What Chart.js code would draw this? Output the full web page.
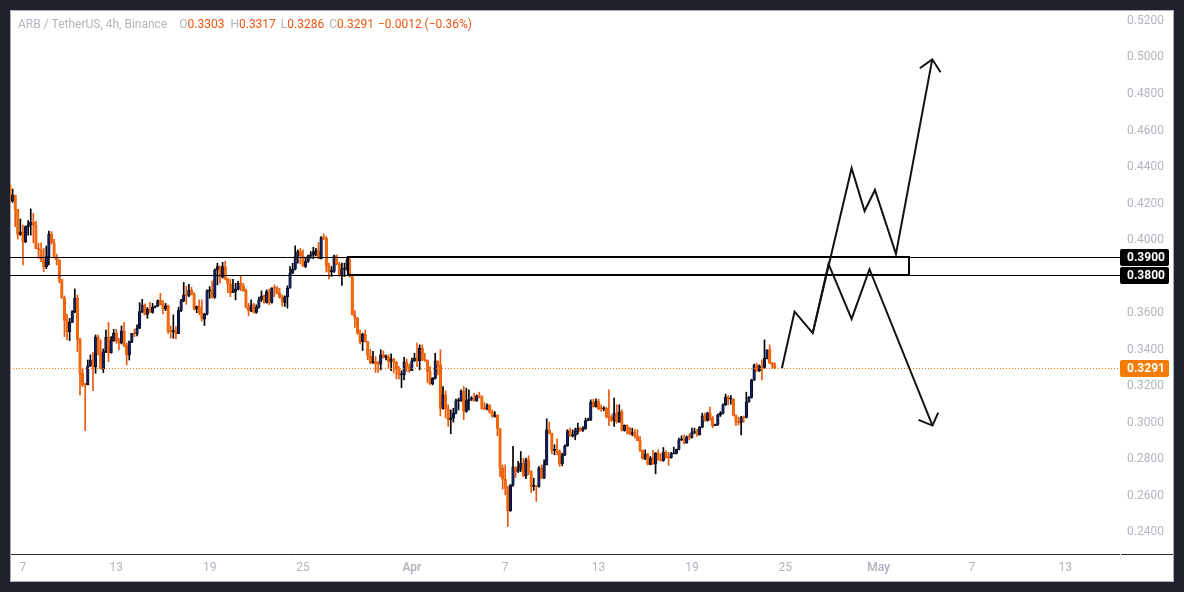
<!DOCTYPE html>
<html>
<head>
<meta charset="utf-8">
<style>
  html, body { margin: 0; padding: 0; background: #1e222d; overflow: hidden; }
  canvas { display: block; }
</style>
<script src="https://cdn.jsdelivr.net/npm/chart.js@4"></script>
</head>
<body>
<canvas id="myChart" width="1184" height="592"></canvas>
<script>
// first candle sits at index -5, index 0 is the "7" tick, one index is 4 hours
const firstIndex = -5;
const firstOpen = 0.4291;

const closes = [
  .4203,.4236,.4158,.4021,.4034,.3981,.4063,.4072,.4087,.4072,.3943,.3935,.3881,.3844,.3899,.4021,.3975,.3895,.3881,.3775,
  .3671,.3549,.3488,.3539,.3598,.3671,.3446,.3260,.3197,.3197,.3301,.3333,.3297,.3457,.3370,.3284,.3379,.3457,.3373,.3439,
  .3479,.3439,.3425,.3492,.3412,.3361,.3434,.3479,.3476,.3507,.3598,.3634,.3583,.3611,.3594,.3622,.3629,.3658,.3636,.3612,
  .3629,.3488,.3488,.3490,.3477,.3603,.3656,.3687,.3687,.3716,.3694,.3611,.3625,.3592,.3556,.3584,.3711,.3715,.3675,.3826,
  .3845,.3786,.3845,.3775,.3748,.3702,.3708,.3721,.3753,.3739,.3713,.3622,.3604,.3635,.3593,.3622,.3662,.3684,.3648,.3708,
  .3648,.3726,.3726,.3699,.3675,.3648,.3680,.3726,.3808,.3830,.3903,.3927,.3903,.3845,.3872,.3903,.3907,.3927,.3932,.3887,
  .4003,.4000,.3850,.3817,.3818,.3903,.3859,.3795,.3830,.3831,.3881,.3790,.3580,.3562,.3478,.3434,.3474,.3434,.3356,.3316,
  .3325,.3310,.3310,.3361,.3347,.3349,.3325,.3337,.3321,.3283,.3252,.3253,.3321,.3294,.3275,.3328,.3343,.3328,.3398,.3334,
  .3330,.3270,.3203,.3232,.3328,.3306,.3068,.3142,.3064,.3006,.3015,.3042,.3110,.3111,.3161,.3051,.3111,.3119,.3120,.3111,
  .3137,.3133,.3066,.3066,.3088,.3047,.3024,.3031,.2958,.2741,.2681,.2635,.2508,.2650,.2747,.2723,.2741,.2768,.2699,.2787,
  .2723,.2641,.2642,.2641,.2741,.2686,.2759,.2951,.2933,.2838,.2840,.2832,.2765,.2814,.2863,.2945,.2918,.2920,.2942,.2960,
  .2947,.2958,.3002,.3004,.3102,.3078,.3106,.3066,.3066,.3068,.3020,.3020,.3002,.3042,.2996,.3049,.2947,.2975,.2960,.2929,
  .2936,.2918,.2892,.2838,.2794,.2818,.2761,.2796,.2763,.2823,.2787,.2783,.2829,.2799,.2799,.2819,.2821,.2845,.2896,.2898,
  .2878,.2911,.2909,.2936,.2940,.2923,.2965,.3027,.3002,.3044,.3016,.2973,.2980,.3033,.3042,.3088,.3130,.3119,.3120,.3029,
  .2991,.2991,.3018,.3018,.3104,.3128,.3223,.3305,.3275,.3301,.3292,.3343,.3389,.3316,.3303,.3291
];
const highs = [
  .4291,.4269,.4236,.4158,.4105,.4072,.4067,.4096,.4160,.4136,.4094,.3972,.3975,.3944,.3957,.4039,.4036,.3994,.3913,.3881,
  .3775,.3684,.3585,.3561,.3603,.3722,.3689,.3452,.3288,.3206,.3333,.3361,.3373,.3470,.3470,.3443,.3394,.3497,.3539,.3461,
  .3501,.3501,.3452,.3519,.3539,.3425,.3437,.3479,.3501,.3525,.3647,.3665,.3640,.3620,.3649,.3643,.3629,.3662,.3698,.3658,
  .3643,.3634,.3519,.3580,.3516,.3622,.3665,.3758,.3738,.3747,.3731,.3702,.3629,.3662,.3662,.3589,.3717,.3735,.3766,.3832,
  .3863,.3848,.3868,.3874,.3781,.3775,.3775,.3753,.3763,.3794,.3753,.3721,.3644,.3662,.3644,.3635,.3677,.3711,.3690,.3717,
  .3722,.3730,.3744,.3735,.3726,.3690,.3684,.3739,.3845,.3863,.3958,.3936,.3945,.3936,.3896,.3908,.3927,.3950,.3945,.3976,
  .4009,.4023,.4009,.3863,.3845,.3908,.3908,.3867,.3863,.3863,.3896,.3896,.3803,.3604,.3566,.3498,.3480,.3498,.3434,.3392,
  .3380,.3352,.3325,.3389,.3383,.3361,.3361,.3367,.3343,.3325,.3297,.3274,.3348,.3338,.3310,.3343,.3370,.3425,.3416,.3416,
  .3370,.3334,.3297,.3237,.3370,.3328,.3389,.3188,.3164,.3088,.3060,.3069,.3119,.3124,.3170,.3188,.3179,.3170,.3133,.3151,
  .3142,.3157,.3137,.3100,.3093,.3088,.3060,.3051,.3033,.2958,.2759,.2759,.2641,.2650,.2860,.2750,.2778,.2832,.2796,.2796,
  .2809,.2726,.2686,.2641,.2750,.2759,.2787,.3011,.2993,.2933,.2869,.2902,.2841,.2823,.2869,.2951,.2960,.2951,.2960,.2987,
  .2964,.2969,.3015,.3015,.3115,.3119,.3120,.3119,.3088,.3078,.3075,.3170,.3033,.3124,.3088,.3088,.3060,.2978,.2978,.2964,
  .2960,.2954,.2951,.2914,.2841,.2841,.2823,.2805,.2838,.2827,.2841,.2820,.2854,.2836,.2827,.2827,.2856,.2845,.2905,.2918,
  .2923,.2918,.2929,.2960,.2960,.2954,.2969,.3042,.3042,.3047,.3075,.3024,.2982,.3038,.3051,.3093,.3146,.3137,.3139,.3119,
  .3033,.3020,.3024,.3027,.3157,.3133,.3228,.3310,.3316,.3306,.3334,.3443,.3389,.3416,.3321,.3317
];
const lows = [
  .4196,.4196,.4063,.3995,.4015,.3853,.3975,.4017,.4017,.3975,.3943,.3890,.3871,.3817,.3833,.3853,.3968,.3890,.3853,.3756,
  .3671,.3461,.3443,.3439,.3539,.3592,.3379,.3142,.3187,.2947,.3197,.3297,.3165,.3260,.3361,.3284,.3264,.3373,.3324,.3370,
  .3435,.3425,.3388,.3421,.3406,.3306,.3333,.3428,.3461,.3465,.3505,.3592,.3580,.3561,.3592,.3589,.3618,.3625,.3634,.3585,
  .3603,.3479,.3452,.3452,.3448,.3477,.3598,.3652,.3638,.3680,.3689,.3607,.3592,.3580,.3547,.3522,.3580,.3671,.3671,.3671,
  .3744,.3753,.3781,.3772,.3702,.3680,.3702,.3662,.3717,.3713,.3708,.3617,.3575,.3598,.3589,.3589,.3617,.3653,.3644,.3644,
  .3635,.3644,.3680,.3695,.3671,.3626,.3626,.3617,.3726,.3805,.3826,.3863,.3859,.3845,.3839,.3867,.3890,.3887,.3903,.3887,
  .3887,.3991,.3814,.3777,.3790,.3812,.3854,.3790,.3741,.3790,.3823,.3786,.3580,.3511,.3474,.3421,.3385,.3431,.3334,.3312,
  .3316,.3265,.3265,.3279,.3343,.3334,.3285,.3274,.3261,.3230,.3228,.3182,.3224,.3270,.3265,.3274,.3325,.3297,.3279,.3330,
  .3325,.3210,.3197,.3197,.3228,.3252,.3027,.3064,.3015,.2969,.2929,.2993,.3038,.3060,.3106,.3006,.3047,.3060,.3111,.3106,
  .3106,.3124,.3064,.3060,.3060,.3042,.3020,.3020,.2918,.2695,.2626,.2595,.2422,.2504,.2641,.2690,.2717,.2723,.2695,.2683,
  .2705,.2608,.2619,.2559,.2637,.2683,.2683,.2759,.2929,.2819,.2814,.2814,.2750,.2754,.2809,.2860,.2914,.2911,.2896,.2927,
  .2942,.2942,.2954,.3000,.3002,.3075,.3075,.3060,.3051,.3055,.3015,.2973,.2996,.2969,.2987,.2991,.2945,.2943,.2929,.2923,
  .2918,.2905,.2891,.2832,.2790,.2787,.2759,.2759,.2761,.2710,.2783,.2779,.2778,.2796,.2756,.2796,.2819,.2818,.2841,.2892,
  .2874,.2878,.2896,.2905,.2929,.2914,.2922,.2962,.2998,.2998,.3002,.2962,.2973,.2975,.3024,.3038,.3084,.3088,.3091,.3026,
  .2973,.2978,.2923,.2991,.3015,.3102,.3124,.3221,.3270,.3270,.3224,.3288,.3339,.3312,.3286,.3286
];

const yTicks = [0.52, 0.50, 0.48, 0.46, 0.44, 0.42, 0.40, 0.38, 0.36, 0.34, 0.32, 0.30, 0.28, 0.26, 0.24];
const xTicks = [0, 36, 72, 108, 150, 186, 222, 258, 294, 330, 366, 402];
const xTickLabels = ['7', '13', '19', '25', 'Apr', '7', '13', '19', '25', 'May', '7', '13'];

const zoneTop = 0.39;
const zoneBottom = 0.38;
const lastPrice = 0.3291;
const zoneStart = 125.3;
const zoneEnd = 341.7;

// hand drawn projections
const upPathX = [292.7, 297.6, 304.6, 319.6, 324.6, 328.6, 336.7, 350.7];
const upPathY = [0.3288, 0.3598, 0.3480, 0.4383, 0.4149, 0.4264, 0.3914, 0.4979];
const upHeadX = [345.9, 350.7, 353.9];
const upHeadY = [0.4930, 0.4979, 0.4908];
const downPathX = [304.6, 310.7, 319.6, 326.5, 350.8];
const downPathY = [0.3480, 0.3859, 0.3558, 0.3830, 0.2974];
const downHeadX = [345.4, 350.8, 353.0];
const downHeadY = [0.3005, 0.2974, 0.3045];

const tagPrices = [zoneTop, zoneBottom, lastPrice];
const tagColors = ['#000000', '#000000', '#f57c00'];

const GREY = '#b2b5be';
const RED = '#f0540f';
const FONT = 'Roboto';

const opens = closes.map((c, i) => (i === 0 ? firstOpen : closes[i - 1]));
const isUp = (i) => closes[i] > opens[i];
const xOf = (i) => firstIndex + i;

const toPoints = (xs, ys) => xs.map((x, i) => ({ x: x, y: ys[i] }));

function drawnLine(points, width) {
  return {
    type: 'line',
    data: points,
    borderColor: '#131313',
    borderWidth: width,
    pointRadius: 0,
    tension: 0,
    order: 0,
  };
}

function hLine(c, py, left, right) {
  c.beginPath();
  c.moveTo(left, py);
  c.lineTo(right, py);
  c.stroke();
}

const framePlugin = {
  id: 'frame',
  // the layout leaves a little room for the tick labels, pin the plot area instead
  afterLayout(chart) {
    const x = chart.scales.x;
    const y = chart.scales.y;
    x.left = 10;
    x.right = 1121;
    x.width = 1111;
    y.top = 10;
    y.bottom = 554;
    y.height = 544;
    x.configure();
    y.configure();
    chart.chartArea.left = 10;
    chart.chartArea.right = 1121;
    chart.chartArea.top = 10;
    chart.chartArea.bottom = 554;
    chart.chartArea.width = 1111;
    chart.chartArea.height = 544;
  },
  beforeDraw(chart) {
    const c = chart.ctx;
    c.save();
    c.fillStyle = '#1e222d';
    c.fillRect(0, 0, 1184, 592);
    c.fillStyle = '#ffffff';
    c.fillRect(10, 10, 1164, 572);
    c.strokeStyle = '#a9acb4';
    c.lineWidth = 1;
    c.strokeRect(10.5, 10.5, 1163, 571);
    c.restore();
  },
  afterDatasetsDraw(chart) {
    const c = chart.ctx;
    const x = chart.scales.x;
    const y = chart.scales.y;
    const area = chart.chartArea;
    c.save();
    // price lines, snapped to whole pixels so they stay crisp
    c.lineWidth = 1;
    c.strokeStyle = '#f57c00';
    c.setLineDash([1, 2]);
    hLine(c, Math.ceil(y.getPixelForValue(lastPrice)) + 0.5, area.left, area.right);
    c.setLineDash([]);
    c.strokeStyle = '#000000';
    hLine(c, Math.ceil(y.getPixelForValue(zoneTop)) + 0.5, area.left, area.right);
    hLine(c, Math.ceil(y.getPixelForValue(zoneBottom)) + 0.5, area.left, area.right);

    // zone box
    const top = Math.ceil(y.getPixelForValue(zoneTop));
    const bottom = Math.ceil(y.getPixelForValue(zoneBottom));
    const left = Math.round(x.getPixelForValue(zoneStart));
    const right = Math.round(x.getPixelForValue(zoneEnd));
    c.lineWidth = 2;
    c.strokeRect(left, top, right - left, bottom - top);
    c.restore();
  },
  afterDraw(chart) {
    const c = chart.ctx;
    const y = chart.scales.y;
    c.save();
    // time axis line, broken where the price axis starts
    c.strokeStyle = '#2a2e39';
    c.lineWidth = 1;
    hLine(c, 554.5, 11, 1120);
    hLine(c, 554.5, 1121, 1173);

    // price tags
    c.font = 'bold 12px ' + FONT;
    c.textBaseline = 'middle';
    tagPrices.forEach((p, i) => {
      const py = Math.ceil(y.getPixelForValue(p));
      c.fillStyle = tagColors[i];
      c.beginPath();
      c.roundRect(1120, py - 8, 49, 17, 2);
      c.fill();
      c.fillStyle = '#ffffff';
      c.fillText(p.toFixed(4), 1127, py + 1);
    });

    // header
    const parts = [
      ['ARB / TetherUS, 4h, Binance', GREY, 12],
      ['O', GREY, 0], ['0.3303', RED, 6],
      ['H', GREY, 0], ['0.3317', RED, 5],
      ['L', GREY, 0], ['0.3286', RED, 5],
      ['C', GREY, 0], ['0.3291', RED, 4],
      ['\u22120.0012 (\u22120.36%)', RED, 0],
    ];
    c.font = '12px ' + FONT;
    let x = 18;
    parts.forEach((p) => {
      c.fillStyle = p[1];
      c.fillText(p[0], x, 25);
      x += c.measureText(p[0]).width + p[2];
    });
    c.restore();
  },
};

const ctx = document.getElementById('myChart').getContext('2d');

new Chart(ctx, {
  type: 'bar',
  data: {
    datasets: [
      {
        label: 'wicks',
        data: lows.map((l, i) => ({ x: xOf(i), y: [l, highs[i]] })),
        backgroundColor: closes.map((c, i) => (isUp(i) ? '#000000' : '#e8590c')),
        barThickness: 1,
        grouped: false,
        order: 3,
      },
      {
        label: 'bodies',
        data: closes.map((c, i) => ({ x: xOf(i), y: [opens[i], c] })),
        backgroundColor: closes.map((c, i) => (isUp(i) ? '#131f63' : '#f26a00')),
        borderColor: closes.map((c, i) => (isUp(i) ? '#000000' : '#e8590c')),
        borderWidth: 0.6,
        borderSkipped: false,
        barThickness: 2.6,
        minBarLength: 1,
        grouped: false,
        order: 2,
      },
      drawnLine(toPoints(upPathX, upPathY), 2),
      drawnLine(toPoints(upHeadX, upHeadY), 2),
      drawnLine(toPoints(downPathX, downPathY), 2),
      drawnLine(toPoints(downHeadX, downHeadY), 2),
    ],
  },
  options: {
    responsive: false,
    animation: false,
    devicePixelRatio: 1,
    layout: { padding: { left: 10, top: 10, right: 10, bottom: 10 } },
    plugins: { legend: { display: false }, tooltip: { enabled: false } },
    scales: {
      x: {
        type: 'linear',
        min: -5,
        max: 423.5,
        offset: false,
        grid: { display: false, offset: false, drawTicks: false },
        border: { display: false },
        afterBuildTicks(axis) {
          axis.ticks = xTicks.map((v) => ({ value: v }));
        },
        afterFit(axis) {
          axis.height = 28;
        },
        ticks: {
          autoSkip: false,
          maxRotation: 0,
          padding: 7,
          color: GREY,
          font: (c) => ({
            family: FONT,
            size: 12,
            weight: c.tick && (c.tick.value === 150 || c.tick.value === 330) ? '600' : '400',
          }),
          callback: (v) => xTickLabels[xTicks.indexOf(v)],
        },
      },
      y: {
        position: 'right',
        min: 0.2271,
        max: 0.5249,
        grid: { display: false, drawTicks: false },
        border: { display: false },
        afterBuildTicks(axis) {
          axis.ticks = yTicks.map((v) => ({ value: v }));
        },
        afterFit(axis) {
          axis.width = 53;
        },
        ticks: {
          padding: 6,
          labelOffset: 2,
          color: GREY,
          font: { family: FONT, size: 12 },
          callback: (v) => v.toFixed(4),
        },
      },
    },
  },
  plugins: [framePlugin],
});
</script>
</body>
</html>
